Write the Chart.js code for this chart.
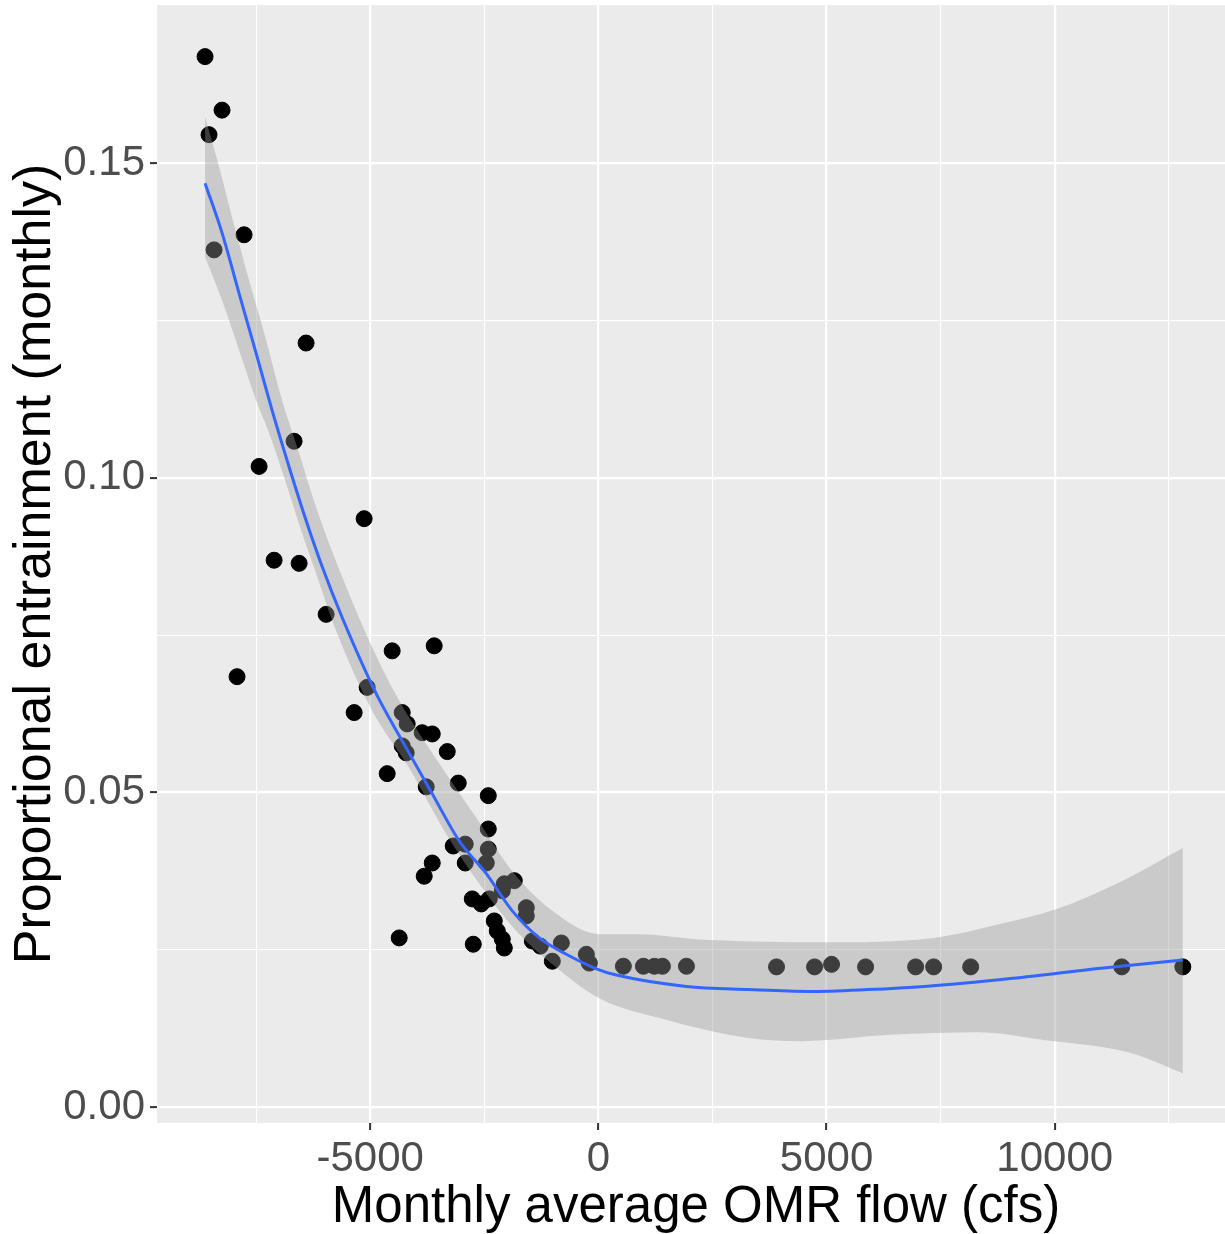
<!DOCTYPE html>
<html>
<head>
<meta charset="utf-8">
<script src="https://cdn.jsdelivr.net/npm/chart.js@4"></script>
<style>
  html, body { margin: 0; padding: 0; background: #ffffff; overflow: hidden; }
  #wrap { width: 1235px; height: 1234px; }
</style>
</head>
<body>
<div id="wrap"><canvas id="omrChart"></canvas></div>
<script>
// observed monthly points
const flowX = [-8618, -8531, -8246, -8421, -7763, -6404, -6667, -7434, -5132, -7105,
  -6557, -5965, -7917, -4518, -3597, -5066, -5351, -4298, -4189, -3860,
  -3640, -4298, -4211, -3311, -4627, -3070, -3772, -2412, -2412, -3180,
  -2917, -2412, -3640, -3816, -2917, -2456, -2061, -1842, -2105, -2763,
  -2566, -2390, -1579, -1579, -2281, -2215, -2105, -2061, -4364, -2741,
  -1447, -811, -1009, -263, -197, -1272, 548, 987, 1228, 1404,
  1930, 3904, 4737, 5110, 5855, 6952, 7347, 8158, 11469, 12807];
const entrainY = [0.1669, 0.1545, 0.1584, 0.1362, 0.1386, 0.1214, 0.1058, 0.1018, 0.0935, 0.0869,
  0.0864, 0.0783, 0.0684, 0.0725, 0.0733, 0.0667, 0.0627, 0.0627, 0.0609, 0.0595,
  0.0593, 0.0574, 0.0563, 0.0565, 0.0530, 0.0515, 0.0509, 0.0495, 0.0442, 0.0415,
  0.0418, 0.0410, 0.0388, 0.0367, 0.0388, 0.0388, 0.0355, 0.0360, 0.0344, 0.0331,
  0.0323, 0.0331, 0.0317, 0.0304, 0.0296, 0.0280, 0.0267, 0.0253, 0.0269, 0.0259,
  0.0264, 0.0261, 0.0232, 0.0243, 0.0229, 0.0256, 0.0224, 0.0224, 0.0224, 0.0224,
  0.0224, 0.0223, 0.0223, 0.0227, 0.0223, 0.0223, 0.0223, 0.0223, 0.0223, 0.0223];

// loess fit
const fitX = [-8618, -8246, -7873, -7500, -7149, -6776, -6404, -6053, -5614, -4868,
  -4298, -3640, -3048, -2456, -1886, -1294, -702, -44, 395, 1930,
  3300, 4600, 5900, 7149, 9079, 11009, 12807];
const fitY = [0.1468, 0.1389, 0.1293, 0.1198, 0.1107, 0.1017, 0.0932, 0.0859, 0.0778, 0.0657,
  0.0582, 0.0498, 0.0423, 0.0371, 0.0312, 0.0269, 0.0243, 0.0220, 0.0210, 0.0192,
  0.0187, 0.0184, 0.0187, 0.0192, 0.0205, 0.0221, 0.0234];

// confidence band edges
const upperX = [-8618, -8311, -8026, -7654, -7281, -6930, -6557, -6184, -5899, -5088,
  -4364, -3487, -2675, -1886, -1009, 22, 877, 2325, 4934, 7347,
  8794, 10044, 11491, 12807];
const upperY = [0.1573, 0.1494, 0.1414, 0.1314, 0.1219, 0.1123, 0.1039, 0.0953, 0.0895, 0.0752,
  0.0646, 0.0546, 0.0460, 0.0375, 0.0312, 0.0275, 0.0275, 0.0266, 0.0262, 0.0269,
  0.0291, 0.0315, 0.0360, 0.0412];
const lowerX = [-8618, -8246, -7873, -7500, -7215, -6842, -6491, -6184, -5746, -4956,
  -4145, -3333, -2610, -1798, -1009, 22, 1535, 3290, 4452, 6382,
  8311, 9759, 11689, 12807];
const lowerY = [0.1351, 0.1282, 0.1203, 0.1123, 0.1071, 0.0991, 0.0912, 0.0848, 0.0757, 0.0630,
  0.0539, 0.0434, 0.0355, 0.0280, 0.0227, 0.0173, 0.0138, 0.0110, 0.0105, 0.0115,
  0.0119, 0.0107, 0.0086, 0.0054];

const xTicks = [-7500, -5000, -2500, 0, 2500, 5000, 7500, 10000, 12500];
const xLabels = [-5000, 0, 5000, 10000];
const yTicks = [0, 0.025, 0.05, 0.075, 0.1, 0.125, 0.15];
const yLabels = [0, 0.05, 0.1, 0.15];

const pairs = (xs, ys) => xs.map((x, i) => ({ x: x, y: ys[i] }));
const isMajor = (list, v) => list.some(m => Math.abs(m - v) < 1e-9);

const panelBg = {
  id: 'panelBg',
  beforeDraw(chart) {
    const a = chart.chartArea;
    const c = chart.ctx;
    c.save();
    c.fillStyle = '#EBEBEB';
    c.fillRect(a.left, a.top, a.right - a.left, a.bottom - a.top);
    c.restore();
  }
};

// no extra room for edge labels, the panel runs to the fixed edges
const noPad = (axis) => {
  axis.paddingLeft = 0;
  axis.paddingRight = 0;
  axis.paddingTop = 0;
  axis.paddingBottom = 0;
};

const ctx = document.getElementById('omrChart');
new Chart(ctx, {
  type: 'scatter',
  data: {
    datasets: [
      {
        label: 'fit',
        type: 'line',
        data: pairs(fitX, fitY),
        borderColor: '#3366FF',
        borderWidth: 3,
        pointRadius: 0,
        cubicInterpolationMode: 'monotone',
        fill: false,
        order: 1
      },
      {
        label: 'upper',
        type: 'line',
        data: pairs(upperX, upperY),
        borderWidth: 0,
        borderColor: 'rgba(0,0,0,0)',
        pointRadius: 0,
        cubicInterpolationMode: 'monotone',
        fill: false,
        order: 2
      },
      {
        label: 'lower',
        type: 'line',
        data: pairs(lowerX, lowerY),
        borderWidth: 0,
        borderColor: 'rgba(0,0,0,0)',
        backgroundColor: 'rgba(153,153,153,0.4)',
        pointRadius: 0,
        cubicInterpolationMode: 'monotone',
        fill: '-1',
        order: 2
      },
      {
        label: 'points',
        data: pairs(flowX, entrainY),
        backgroundColor: '#000000',
        borderColor: '#000000',
        borderWidth: 1,
        pointRadius: 8,
        order: 3
      }
    ]
  },
  options: {
    responsive: true,
    maintainAspectRatio: false,
    animation: false,
    layout: { autoPadding: false, padding: { top: 5, right: 0, left: 0, bottom: 0 } },
    plugins: {
      legend: { display: false },
      tooltip: { enabled: false }
    },
    scales: {
      x: {
        type: 'linear',
        min: -9671,
        max: 13950,
        afterBuildTicks: (axis) => { axis.ticks = xTicks.map(v => ({ value: v })); },
        afterFit: (axis) => { axis.height = 111; noPad(axis); },
        border: { display: false },
        grid: {
          color: '#FFFFFF',
          lineWidth: (c) => isMajor(xLabels, c.tick.value) ? 2.2 : 1.1,
          tickLength: 7,
          tickWidth: 2,
          tickColor: (c) => isMajor(xLabels, c.tick.value) ? '#333333' : 'rgba(0,0,0,0)'
        },
        ticks: {
          autoSkip: false,
          maxRotation: 0,
          padding: 4,
          color: '#4D4D4D',
          font: { family: 'Liberation Sans, Arial, sans-serif', size: 42 },
          callback: (v) => isMajor(xLabels, v) ? String(v) : ''
        },
        title: {
          display: true,
          text: 'Monthly average OMR flow (cfs)',
          color: '#000000',
          font: { family: 'Liberation Sans, Arial, sans-serif', size: 51, lineHeight: 1.0 },
          padding: { top: 0, bottom: 1 }
        }
      },
      y: {
        type: 'linear',
        min: -0.0025,
        max: 0.1751,
        afterBuildTicks: (axis) => { axis.ticks = yTicks.map(v => ({ value: v })); },
        afterFit: (axis) => { axis.width = 157; noPad(axis); },
        border: { display: false },
        grid: {
          color: '#FFFFFF',
          lineWidth: (c) => isMajor(yLabels, c.tick.value) ? 2.2 : 1.1,
          tickLength: 7,
          tickWidth: 2,
          tickColor: (c) => isMajor(yLabels, c.tick.value) ? '#333333' : 'rgba(0,0,0,0)'
        },
        ticks: {
          autoSkip: false,
          padding: 5,
          color: '#4D4D4D',
          font: { family: 'Liberation Sans, Arial, sans-serif', size: 42 },
          callback: (v) => isMajor(yLabels, v) ? v.toFixed(2) : ''
        },
        title: {
          display: true,
          text: 'Proportional entrainment (monthly)',
          color: '#000000',
          font: { family: 'Liberation Sans, Arial, sans-serif', size: 52 },
          padding: { top: 4, bottom: 0 }
        }
      }
    }
  },
  plugins: [panelBg]
});
</script>
</body>
</html>
